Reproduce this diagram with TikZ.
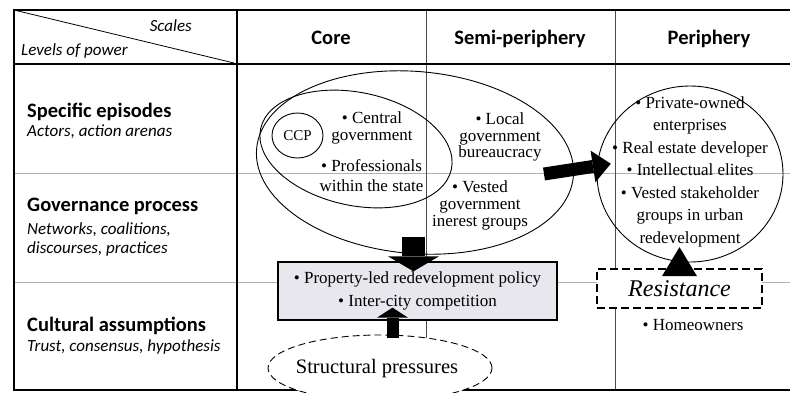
\documentclass[tikz,border=0pt]{standalone}
\usepackage{fontspec}
\setmainfont{Liberation Serif}
\newfontfamily\calibri{Carlito}
\usetikzlibrary{shapes.geometric,arrows.meta}
\definecolor{boxgray}{RGB}{231,231,237}

\begin{document}
\begin{tikzpicture}[x=1pt,y=-1pt,
  colhead/.style={font=\calibri\bfseries\fontsize{20.5}{23}\selectfont, anchor=base, inner sep=0pt},
  rowhead/.style={font=\calibri\bfseries\fontsize{20.5}{23}\selectfont, anchor=base west, inner sep=0pt},
  rowsub/.style={font=\calibri\itshape\fontsize{17}{20}\selectfont, anchor=base west, inner sep=0pt},
  txt/.style={font=\fontsize{17}{16.7}\selectfont, align=center, inner sep=0pt},
  oval/.style={ellipse, draw, line width=0.9pt, inner sep=0pt},
  thickline/.style={line width=2pt},
  colline/.style={line width=0.9pt, black!70},
  rowline/.style={line width=0.8pt, black!30}]
\useasboundingbox (0,0) rectangle (790,392);

\draw[rowline] (14,173) -- (790,173);
\draw[rowline] (14,282) -- (790,282);
\draw[colline] (426,10) -- (426,390);
\draw[colline] (615,10) -- (615,390);
\draw[line width=1.6pt] (13,10) -- (790,10);
\draw[line width=2.6pt] (14,64) -- (790,64);
\draw[thickline] (14,9) -- (14,391);
\draw[thickline] (237,9) -- (237,391);
\draw[thickline] (13,390) -- (790,390);

\coordinate (corner) at (14,10);
\coordinate (hdrend) at (234,63);
\draw[line width=0.8pt] (corner) -- (hdrend);
\node[rowsub, anchor=base east] (scales) at (192,31) {Scales};
\node[rowsub] (levels) at (21,55) {Levels of power};

\node[colhead] (core) at (331,44.3) {Core};
\node[colhead] (semi) at (520,44.3) {Semi-periphery};
\node[colhead] (peri) at (709,44.3) {Periphery};

\node[rowhead] (spec) at (27,117.3) {Specific episodes};
\node[rowsub] (specsub) at (27,136.7) {Actors, action arenas};
\node[rowhead] (gov) at (27,211.7) {Governance process};
\node[rowsub] (govsub) at (27,234.3) {Networks, coalitions,};
\node[rowsub] (govsubb) at (27,253.3) {discourses, practices};
\node[rowhead] (cult) at (27,331.7) {Cultural assumptions};
\node[rowsub] (cultsub) at (27,351.7) {Trust, consensus, hypothesis};

\node[oval, minimum width=318pt, minimum height=182pt, rotate=-5] (coreell) at (415,162.5) {};
\node[oval, minimum width=195pt, minimum height=113pt, rotate=-12] (stateell) at (356,149) {};
\node[oval, minimum width=51pt, minimum height=45pt, font=\fontsize{15}{18}\selectfont] (ccp) at (297.5,135.5) {CCP};
\node[txt] (central) at (372,128) {\textbullet{} Central\\government};
\node[txt, font=\fontsize{17}{20}\selectfont] (prof) at (371.5,176) {\textbullet{} Professionals\\within the state};
\node[txt] (local) at (500,137.1) {\textbullet{} Local\\government\\bureaucracy};
\node[txt] (vested) at (480,205.5) {\textbullet{} Vested\\government\\inerest groups};

\node[oval, minimum width=186pt, minimum height=176pt] (periph) at (690,174) {};
\node[txt, font=\fontsize{17}{22.5}\selectfont] (actors) at (690,171.6) {\textbullet{} Private-owned\\enterprises\\\textbullet{} Real estate developer\\\textbullet{} Intellectual elites\\\textbullet{} Vested stakeholder\\groups in urban\\redevelopment};

\node[draw, line width=1.3pt, fill=boxgray, minimum width=279pt, minimum height=58pt, inner sep=0pt, align=center, font=\fontsize{17}{23}\selectfont] (policy) at (417.5,291) {\textbullet{} Property-led redevelopment policy\\\textbullet{} Inter-city competition};

\node[oval, dashed, dash pattern=on 7pt off 4pt, fill=white, minimum width=224pt, minimum height=66pt] (struct) at (380,368) {};
\node[txt, font=\fontsize{20.5}{24}\selectfont] (structtxt) at (377,368.5) {Structural pressures};

\node[draw, line width=1.8pt, dash pattern=on 8pt off 4pt, fill=white, minimum width=165pt, minimum height=39pt, inner sep=0pt, font=\itshape\fontsize{24}{28}\selectfont] (resist) at (679.5,288.5) {Resistance};
\node[txt, anchor=base] (owners) at (693,330) {\textbullet{} Homeowners};

\coordinate (downtail) at (413.5,237);
\coordinate (uptail) at (392.5,338);
\coordinate (righttail) at (544,174);
\draw[line width=23pt, -{Triangle[width=51pt,length=15pt,line width=0pt]}, shorten >=-10pt] (downtail) -- (downtail |- policy.north);
\draw[line width=12pt, -{Triangle[width=31pt,length=10pt,line width=0pt]}, shorten >=-13pt] (uptail) -- (uptail |- policy.south);
\draw[line width=13pt, -{Triangle[width=32pt,length=18pt,line width=0pt]}, shorten >=-14pt] (righttail) -- (periph.175);
\draw[line width=0.4pt, -{Triangle[width=35pt,length=29pt,line width=0pt]}] ([yshift=-8pt]resist.north) -- ++(0,-29);
\end{tikzpicture}
\end{document}
